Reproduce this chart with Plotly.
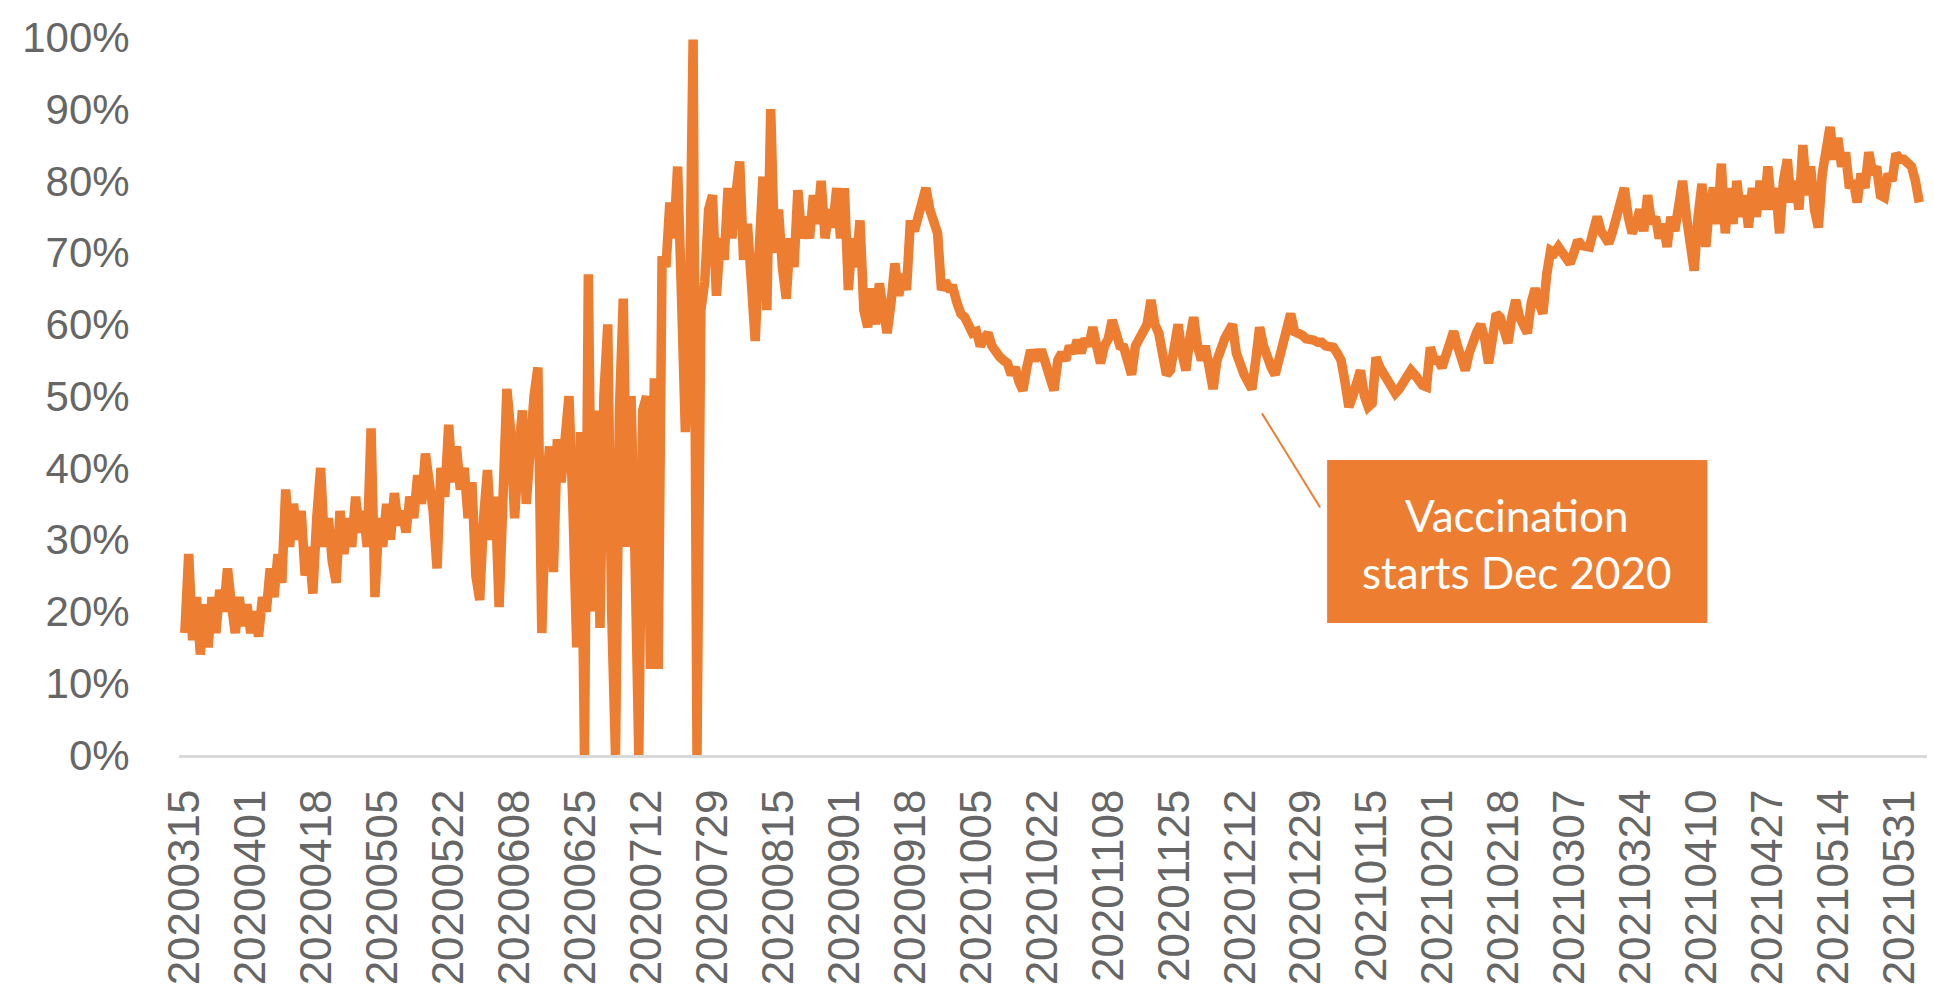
import pandas as pd
import plotly.graph_objects as go

START_DATE = "2020-03-15"

# Daily share values (%) in 17-day blocks
seg00 = [17, 28, 16, 22, 14, 21, 15, 22, 17, 23, 20, 26, 21, 17, 22, 18, 21]
seg01 = [17, 20, 16.5, 22, 20, 26, 22, 28, 24, 37, 29, 35, 30, 34, 25, 29, 22.5]
seg02 = [33, 40, 29, 33, 27, 24, 34, 28, 33, 29, 36, 31, 34, 29, 45.5, 22, 33]
seg03 = [29, 35, 30, 36.5, 32, 34, 31, 36, 33, 39, 35, 42, 38, 34, 26, 40, 36]
seg04 = [46, 38, 43, 37, 40, 33, 38, 25, 21.6, 33, 39.7, 30, 36, 20.6, 38, 51, 45]
seg05 = [33, 42, 48, 35, 44, 50, 54, 17, 36, 43, 25.5, 44, 38, 46, 50, 35, 15]
seg06 = [45, 0, 67, 20, 48, 17.7, 50, 60, 20, 0, 48, 63.6, 29, 50, 28, 0, 48]
seg07 = [50, 12, 52.5, 12, 69.5, 68, 77, 72, 82, 64, 45, 60, 99.7, 0, 62, 66, 76]
seg08 = [78, 64, 72, 69, 79, 72, 78, 82.7, 69, 74, 66, 57.7, 70, 80.6, 62, 90, 70]
seg09 = [76, 68, 63.6, 72, 68, 78.7, 72, 75, 72, 78, 74, 80, 72, 76, 73.5, 79, 72]
seg10 = [79, 64.8, 72, 68, 74.5, 62, 59.6, 65, 60, 65.7, 62, 58.8, 63, 68.5, 64, 67, 64.8]
seg11 = [74.5, 73, 75, 78, 79, 76, 74, 72.7, 64.8, 66, 65, 65, 63, 61.5, 61, 60, 58.8]
seg12 = [59, 57, 58, 58.8, 57, 56, 55.5, 55, 54.6, 53, 54, 52, 50.8, 54, 56.4, 55, 56]
seg13 = [56, 54, 53, 50.8, 55, 56, 55, 57, 56, 57.8, 56, 58, 57, 59.6, 57, 54.6, 57]
seg14 = [58, 60.6, 58, 57, 56.8, 55, 53, 57, 58, 59.6, 60, 63.4, 60, 58.8, 56, 53, 53.6]
seg15 = [58, 60, 56, 53.6, 58, 61, 57, 55, 57, 53, 51, 55, 57, 58, 59, 60, 56]
seg16 = [54, 53, 52, 51, 55, 59.6, 57, 55, 54, 53, 55, 58, 60, 61.5, 59, 58.8, 58.5]
seg17 = [58, 58, 57.8, 57.5, 57.5, 57, 57, 56.8, 56, 55, 52, 48.5, 50, 52, 53.6, 50, 48.5]
seg18 = [49, 55.4, 54, 53, 51.8, 51, 50.4, 51, 52, 53, 53.6, 53, 52, 51.5, 51.3, 56.8, 55]
seg19 = [55, 54, 56, 57, 59, 57, 55, 53.6, 56, 58, 59, 60, 58, 54.6, 58, 61.5, 61]
seg20 = [59, 57.4, 61, 63.4, 61, 60, 58.8, 63, 65, 63, 61.5, 67, 70.3, 70, 70.8, 70, 69]
seg21 = [68.5, 70, 71.7, 71, 71, 70.8, 73, 75, 73, 72, 71.3, 73, 75, 77, 79, 75, 72.7]
seg22 = [74, 76, 73, 78, 74, 75, 72, 74, 70.8, 75, 73, 78, 80, 75, 72, 67.5, 75]
seg23 = [79.6, 70.8, 77, 79, 74, 82.4, 72.7, 79, 74, 80, 75, 78, 73.5, 79, 75, 80, 76]
seg24 = [82, 76, 79, 72.7, 80, 83, 77, 80, 76, 85, 78, 82, 76, 73.5, 81, 85, 87.5]
seg25 = [83, 86, 82, 84, 79, 80, 77, 81, 79, 84, 81, 82, 78, 77.7, 81, 80, 83.8]
seg26 = [83, 83, 82.5, 82, 80, 77]

values = (seg00 + seg01 + seg02 + seg03 + seg04 + seg05 + seg06 + seg07 + seg08
          + seg09 + seg10 + seg11 + seg12 + seg13 + seg14 + seg15 + seg16 + seg17
          + seg18 + seg19 + seg20 + seg21 + seg22 + seg23 + seg24 + seg25 + seg26)

dates = pd.date_range(START_DATE, periods=len(values), freq="D").strftime("%Y%m%d").tolist()

TICK_LABELS = ["20200315", "20200401", "20200418", "20200505", "20200522", "20200608",
               "20200625", "20200712", "20200729", "20200815", "20200901", "20200918",
               "20201005", "20201022", "20201108", "20201125", "20201212", "20201229",
               "20210115", "20210201", "20210218", "20210307", "20210324", "20210410",
               "20210427", "20210514", "20210531"]

Y_TICKS = [0, 10, 20, 30, 40, 50, 60, 70, 80, 90, 100]

ANNOT_TEXT = "Vaccination<br>starts Dec 2020"

ORANGE = "#ED7D31"
GREY_TXT = "#666666"

fig = go.Figure()
fig.add_trace(go.Scatter(
    x=dates, y=values, mode="lines",
    line=dict(color=ORANGE, width=9.5),
    showlegend=False, hoverinfo="x+y",
))

# Callout box + connector
fig.add_shape(type="line", xref="x", yref="y",
              x0=277.6, y0=47.6, x1=292.6, y1=34.5,
              line=dict(color=ORANGE, width=2))
fig.add_shape(type="rect", xref="x", yref="y",
              x0=294.4, x1=392.4, y0=18.4, y1=41.1,
              fillcolor=ORANGE, line=dict(width=0), layer="above")
fig.add_annotation(xref="x", yref="y", x=343.4, y=29.5,
                   text=ANNOT_TEXT, showarrow=False,
                   font=dict(family="Lato", size=44, color="white"),
                   align="center")

fig.update_layout(
    width=1934, height=1002,
    margin=dict(l=179, r=7, t=23, b=247),
    paper_bgcolor="white", plot_bgcolor="white",
    font=dict(family="Liberation Sans", color=GREY_TXT),
)
fig.update_xaxes(
    type="category", range=[-1.5, 449],
    tickmode="array", tickvals=TICK_LABELS, ticktext=TICK_LABELS,
    tickangle=-90, tickfont=dict(size=44, color=GREY_TXT, family="Liberation Sans"),
    ticks="outside", ticklen=14, tickcolor="rgba(0,0,0,0)",
    showgrid=False, zeroline=False,
    showline=True, linecolor="#D9D9D9", linewidth=3,
)
fig.update_yaxes(
    range=[0, 102], tickmode="array", tickvals=Y_TICKS,
    ticktext=[f"{v}%" for v in Y_TICKS],
    tickfont=dict(size=42, color=GREY_TXT, family="Liberation Sans"),
    ticks="outside", ticklen=40, tickcolor="rgba(0,0,0,0)",
    showgrid=False, zeroline=False, showline=False,
)

fig.write_html("out.html",
               config={"displayModeBar": False},
               post_script="document.body.style.margin='0';document.body.style.overflow='hidden';")
